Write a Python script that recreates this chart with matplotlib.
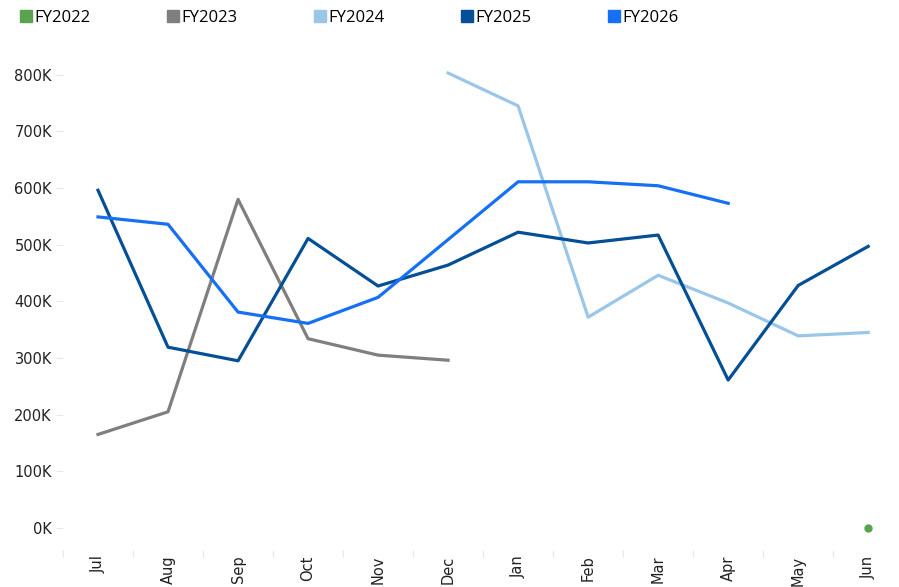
import numpy as np
import matplotlib
matplotlib.use("Agg")
import matplotlib.pyplot as plt
from matplotlib.lines import Line2D
from matplotlib.ticker import FuncFormatter, FixedLocator

# ===== data =====
months = ["Jul", "Aug", "Sep", "Oct", "Nov", "Dec",
          "Jan", "Feb", "Mar", "Apr", "May", "Jun"]
series_names = ["FY2022", "FY2023", "FY2024", "FY2025", "FY2026"]
colors = ["#5aa24f", "#7f7f7f", "#9ac6e7", "#044f95", "#1570f4"]

nan = np.nan
fy2022 = [nan, nan, nan, nan, nan, nan, nan, nan, nan, nan, nan, 0]
fy2023 = [165, 205, 580, 334, 305, 296, nan, nan, nan, nan, nan, nan]
fy2024 = [nan, nan, nan, nan, nan, 803, 745, 372, 446, 397, 339, 345]
fy2025 = [596, 319, 295, 511, 427, 464, 522, 503, 517, 261, 428, 497]
fy2026 = [549, 536, 381, 361, 407, 509, 611, 611, 604, 573, nan, nan]
values = [fy2022, fy2023, fy2024, fy2025, fy2026]
# =================

W, H = 899, 587
fig = plt.figure(figsize=(W / 100, H / 100), dpi=100)
# axes placed in pixel terms: left 63, right 899, top 60, bottom 550
ax = fig.add_axes([63 / W, (H - 550) / H, (899 - 63) / W, (550 - 60) / H])

x = np.arange(len(months))
for name, vals, c in zip(series_names, values, colors):
    v = np.array(vals, dtype=float) * 1000
    n_valid = np.count_nonzero(~np.isnan(v))
    if n_valid == 1:
        ax.plot(x, v, "o", color=c, markersize=5, label=name)
    else:
        ax.plot(x, v, "-", color=c, linewidth=2.3, label=name)

ax.set_xlim(-0.5, 11.44)
ax.set_ylim(-39000, 826000)

ax.set_yticks(np.arange(0, 800001, 100000))
ax.yaxis.set_major_formatter(FuncFormatter(lambda v, p: f"{int(v / 1000)}K"))
ax.tick_params(axis="y", length=5, width=0.8, color="#e6e6e6", pad=3,
               labelsize=10.5, labelcolor="#222222")

ax.set_xticks(x)
ax.set_xticklabels(months, rotation=90)
ax.xaxis.set_minor_locator(FixedLocator(x - 0.5))
ax.tick_params(axis="x", which="major", length=0, pad=4,
               labelsize=10.5, labelcolor="#222222")
ax.tick_params(axis="x", which="minor", length=5, width=0.8, color="#e6e6e6")

for s in ax.spines.values():
    s.set_visible(False)

handles = [Line2D([0], [0], marker="s", linestyle="none", markersize=8,
                  markerfacecolor=c, markeredgecolor=c) for c in colors]
fig.legend(handles, series_names, loc="upper left", ncol=5,
           bbox_to_anchor=(9 / W, 1.0), frameon=False,
           handlelength=0.8, handletextpad=0.15, columnspacing=4.5,
           borderaxespad=0.2, prop={"family": "Open Sans", "size": 12})

fig.savefig("out.png", dpi=100, facecolor="white")
